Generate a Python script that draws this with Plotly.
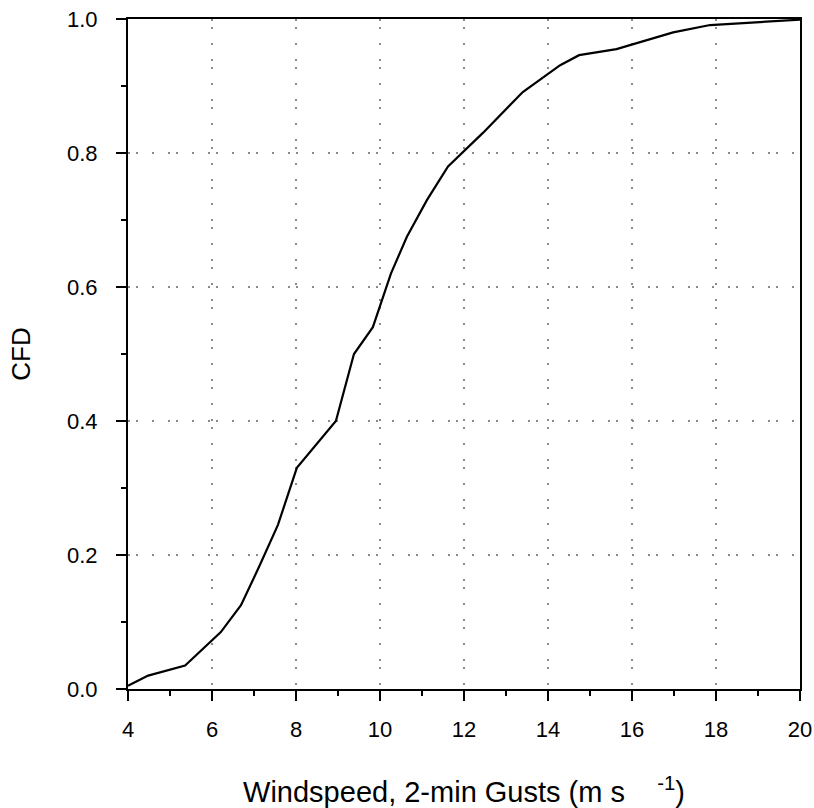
import plotly.graph_objects as go

windspeed = [4.0, 4.48, 5.36, 6.21, 6.69, 7.14, 7.57, 8.02, 8.95, 9.38, 9.83, 10.26,
             10.64, 11.12, 11.62, 12.45, 13.4, 14.29, 14.74, 15.63, 16.98, 17.86, 20.0]
cfd = [0.005, 0.02, 0.035, 0.085, 0.125, 0.185, 0.245, 0.33, 0.40, 0.50, 0.54, 0.62,
       0.675, 0.73, 0.78, 0.83, 0.891, 0.931, 0.946, 0.955, 0.98, 0.991, 0.999]

x_ticks = [4, 6, 8, 10, 12, 14, 16, 18, 20]
y_ticks = [0.0, 0.2, 0.4, 0.6, 0.8, 1.0]

x_title = "Windspeed, 2-min Gusts (m s&nbsp;&nbsp;&nbsp;&nbsp;<sup>-1</sup>)"
y_title = "CFD"

fig = go.Figure()
fig.add_trace(go.Scatter(x=windspeed, y=cfd, mode="lines",
                         line=dict(color="black", width=2.2), showlegend=False))

font_family = "Liberation Sans, Arial, sans-serif"
grid_dash = "1.5px,6.5px,1.5px,14.5px,1.5px,14.5px"

fig.update_layout(
    width=814, height=808,
    margin=dict(l=128, r=14, t=19, b=119),
    paper_bgcolor="white", plot_bgcolor="white",
    font=dict(family=font_family, color="black", size=22),
    xaxis=dict(
        range=[4, 20], tickvals=x_ticks, ticktext=[str(v) for v in x_ticks],
        showline=True, linecolor="black", linewidth=2, mirror=True,
        ticks="outside", ticklen=10, tickwidth=2, tickcolor="black",
        minor=dict(dtick=1, ticks="outside", ticklen=5, tickwidth=2, tickcolor="black", showgrid=False),
        showgrid=True, gridcolor="#8a8a8a", gridwidth=1.5, griddash=grid_dash,
        zeroline=False, tickfont=dict(size=22), ticklabelstandoff=10,
        automargin=False,
        title=dict(text=x_title, font=dict(size=29), standoff=48),
    ),
    yaxis=dict(
        range=[0, 1], tickvals=y_ticks, ticktext=[f"{v:.1f}" for v in y_ticks],
        showline=True, linecolor="black", linewidth=2, mirror=True,
        ticks="outside", ticklen=10, tickwidth=2, tickcolor="black",
        minor=dict(dtick=0.1, ticks="outside", ticklen=5, tickwidth=2, tickcolor="black", showgrid=False),
        showgrid=True, gridcolor="#8a8a8a", gridwidth=1.5, griddash=grid_dash,
        zeroline=False, tickfont=dict(size=22), ticklabelstandoff=14,
        automargin=False,
        title=dict(text=y_title, font=dict(size=26), standoff=29),
    ),
)

fig.write_html("out.html")
